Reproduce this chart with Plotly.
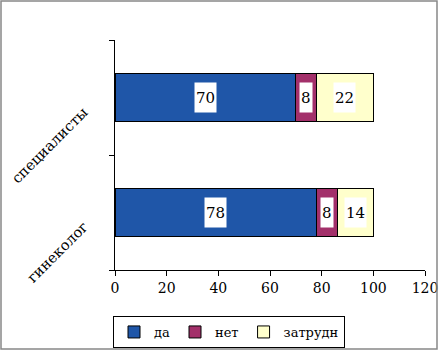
import plotly.graph_objects as go

categories = ["гинеколог", "специалисты"]
series_names = ["да", "нет", "затрудн"]
da = [78, 70]
net = [8, 8]
zatrudn = [14, 22]
x_ticks = [0, 20, 40, 60, 80, 100, 120]

colors = ["#1F56A8", "#A3306A", "#FFFFCC"]
values = [da, net, zatrudn]

FONT = "DejaVu Serif"
fig = go.Figure()
for name, vals, col in zip(series_names, values, colors):
    fig.add_trace(go.Bar(
        y=categories, x=vals, name=name, orientation="h",
        marker=dict(color=col, line=dict(color="black", width=1)),
        width=0.42,
    ))

annotations = []
# data labels with white boxes, at segment midpoints
for i, cat in enumerate(categories):
    base = 0
    for vals in values:
        v = vals[i]
        annotations.append(dict(
            x=base + v / 2, y=cat, xref="x", yref="y", text=str(v),
            showarrow=False, bgcolor="white", borderpad=1, height=27,
            font=dict(family=FONT, size=15, color="black"),
        ))
        base += v

# rotated category labels
for cat in categories:
    annotations.append(dict(
        x=0, y=cat, xref="paper", yref="y", text=cat, showarrow=False,
        textangle=-45, xanchor="right", yanchor="top", xshift=-21, yshift=-3,
        font=dict(family=FONT, size=14.5, color="black"),
    ))

L, R, T, B = 115, 14, 40, 80
W, H = 439, 350
pw, ph = W - L - R, H - T - B

fig.update_layout(
    width=W, height=H, barmode="stack",
    margin=dict(l=L, r=R, t=T, b=B, autoexpand=False),
    paper_bgcolor="white", plot_bgcolor="white",
    font=dict(family=FONT, size=14, color="black"),
    annotations=annotations,
    legend=dict(orientation="h", x=(229 - L) / pw, y=-(316 - (T + ph)) / ph,
                xanchor="center", yanchor="top",
                bordercolor="black", borderwidth=1,
                font=dict(family=FONT, size=13), traceorder="normal",
                itemwidth=30, tracegroupgap=0),
    xaxis=dict(range=[0, 120], tickvals=x_ticks, ticktext=[str(t) for t in x_ticks],
               showgrid=False, zeroline=False, showline=True, linecolor="black", linewidth=1,
               ticks="outside", ticklen=5, tickcolor="black", automargin=False,
               tickfont=dict(family=FONT, size=14)),
    yaxis=dict(range=[-0.5, 1.5], showgrid=False, zeroline=False, showline=True,
               linecolor="black", linewidth=1, ticks="outside", ticklen=5, tickcolor="black",
               tickson="boundaries", automargin=False, showticklabels=False),
    shapes=[dict(type="rect", xref="paper", yref="paper",
                 x0=-(L - 1) / pw, x1=(pw + R - 2) / pw,
                 y0=-(B - 1) / ph, y1=(ph + T - 1) / ph,
                 line=dict(color="#888888", width=1.5), fillcolor="rgba(0,0,0,0)")],
)
fig.write_html("out.html", config={"displayModeBar": False},
               post_script="document.body.style.margin='0';document.body.style.padding='0';")
